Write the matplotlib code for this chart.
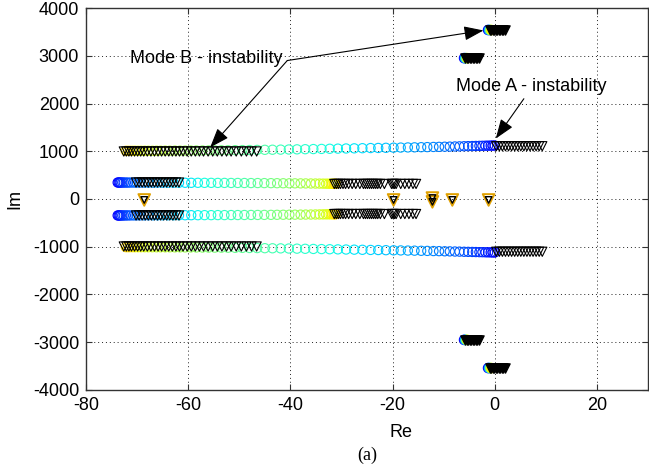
import numpy as np
import matplotlib.pyplot as plt

plt.rcParams['font.family'] = ['Liberation Sans', 'DejaVu Sans']
plt.rcParams['axes.unicode_minus'] = False

# ---- circle sweep, upper branch (Im ~ +1000), first point at Re=0 ----
brA_re = [0, -0.4, -0.8, -1.3, -1.8, -2.4, -3.0, -3.7, -4.4, -5.2, -6.0, -6.9,
          -7.8, -8.8, -9.8, -10.9, -12.0, -13.2, -14.4, -15.7, -17.0, -18.4,
          -19.8, -21.3, -22.8, -24.3, -25.9, -27.5, -29.1, -30.7, -32.3, -33.9,
          -35.5, -37.1, -38.7, -40.3, -41.9, -43.5, -45.0, -46.5, -48.0, -49.4,
          -50.8, -52.2, -53.5, -54.8, -56.0, -57.2, -58.4, -59.5, -60.6, -61.6,
          -62.6, -63.6, -64.5, -65.4, -66.2, -67.0, -67.8, -68.5, -69.2, -69.8,
          -70.4, -70.9, -71.4, -71.8, -72.2]
brA_im = [1120, 1119, 1118, 1117, 1116, 1114, 1113, 1111, 1109, 1107, 1105, 1102,
          1100, 1097, 1095, 1092, 1090, 1087, 1085, 1082, 1080, 1077,
          1075, 1072, 1069, 1067, 1064, 1061, 1058, 1055, 1052, 1049,
          1046, 1043, 1040, 1037, 1034, 1032, 1030, 1028, 1026, 1024,
          1023, 1021, 1020, 1019, 1018, 1017, 1016, 1015, 1014, 1013,
          1013, 1012, 1012, 1011, 1011, 1010, 1010, 1010, 1009, 1009,
          1009, 1008, 1008, 1008, 1008]

# ---- circle sweep, inner branch (Im ~ +340), first point at Re=-73.8 ----
brB_re = [-73.8, -73.6, -73.4, -73.2, -72.9, -72.6, -72.2, -71.8, -71.3, -70.7,
          -70.1, -69.4, -68.6, -67.8, -66.9, -66.0, -65.0, -64.0, -62.9, -61.8,
          -60.6, -59.4, -58.1, -56.8, -55.5, -54.2, -52.9, -51.6, -50.3, -49.0,
          -47.7, -46.4, -45.1, -43.8, -42.6, -41.4, -40.2, -39.1, -38.0, -37.0,
          -36.0, -35.1, -34.3, -33.6, -33.0, -32.5, -32.1, -31.8, -31.5, -31.3,
          -31.1]
brB_im = [345, 345, 345, 345, 345, 345, 344, 344, 344, 344,
          343, 343, 343, 342, 342, 342, 341, 341, 341, 340,
          340, 339, 339, 338, 338, 337, 337, 336, 336, 335,
          334, 334, 333, 332, 331, 330, 329, 328, 327, 326,
          325, 324, 323, 322, 321, 320, 320, 319, 319, 318,
          318]

# ---- triangle sweep ----
triA1_re = [-72.6, -72.1, -71.6, -71.1, -70.5, -69.9, -69.3, -68.7, -68.0, -67.3,
            -66.6, -65.9, -65.2, -64.5, -63.8, -63.1, -62.4, -61.7, -61.0, -60.2,
            -59.4, -58.6, -57.8, -57.0, -56.1, -55.2, -54.3, -53.4, -52.5, -51.6,
            -50.6, -49.6, -48.6, -47.6, -46.6]
triA1_im = 995
triA2_re = [0.3, 0.9, 1.5, 2.1, 2.7, 3.3, 3.9, 4.5, 5.1, 5.7, 6.3, 6.9, 7.5, 8.1,
            8.7, 9.3]
triA2_im = 1105
triB1_re = [-70.2, -69.6, -69.0, -68.4, -67.8, -67.2, -66.6, -66.0, -65.4, -64.8,
            -64.2, -63.6, -63.0, -62.4, -61.8]
triB1_im = 345
triB2_re = [-31.4, -31.0, -30.6, -30.2, -29.7, -29.2, -28.6, -27.9, -27.2, -26.4,
            -25.7, -25.3, -24.9, -24.5, -24.1, -23.7, -23.3, -22.9, -22.4, -21.6,
            -20.2, -19.9, -19.6, -19.3, -18.4, -17.6, -16.8, -16.0, -15.4]
triB2_im = 315

# near the real axis
real_re = [-68.6, -19.8, -12.2, -12.2, -8.3, -1.2]
real_im = [-20, -20, 20, -60, -20, -20]

# high-frequency clusters (upper half, mirrored below)
clu_re = [[-1.0, -0.7, -0.4, -0.1, 0.2, 0.5, 0.8, 1.1, 1.4, 1.7, 2.0],
          [-5.8, -5.5, -5.2, -4.9, -4.6, -4.3, -4.0, -3.7, -3.4, -3.1]]
clu_im = [3540, 2950]
clu_col_re = [[-1.3, -1.1, -0.9, -0.7], [-6.0, -5.8, -5.6, -5.4]]

fig = plt.figure(figsize=(6.49, 4.71), dpi=100)
ax = fig.add_axes([0.1325, 0.172, 0.866, 0.811])

cmap = plt.get_cmap('jet')
ms = 44
lw = 0.8

for sgn in (1, -1):
    ax.scatter(brA_re, sgn * np.array(brA_im), s=ms, facecolors='none',
               edgecolors=cmap(np.linspace(0.12, 0.68, len(brA_re))), linewidths=lw, zorder=3)
    ax.scatter(brB_re, sgn * np.array(brB_im), s=ms, facecolors='none',
               edgecolors=cmap(np.linspace(0.12, 0.68, len(brB_re))), linewidths=lw, zorder=3)
    for tre, tim in [(triA1_re, triA1_im), (triA2_re, triA2_im),
                     (triB1_re, triB1_im), (triB2_re, triB2_im)]:
        ax.scatter(tre, [sgn * tim] * len(tre), s=ms, marker='v', facecolors='none',
                   edgecolors='k', linewidths=lw, zorder=4)
    for cre, cim, ccol in zip(clu_re, clu_im, clu_col_re):
        ax.scatter(ccol, [sgn * cim] * len(ccol), s=ms, c=cmap(np.linspace(0.12, 0.65, len(ccol))),
                   zorder=3)
        ax.scatter(cre, [sgn * cim] * len(cre), s=ms, marker='v', c='k', zorder=4)

ax.scatter(real_re, real_im, s=70, marker='v', facecolors='none', edgecolors='#e0a000',
           linewidths=1.4, zorder=4)
ax.scatter(real_re, real_im, s=22, marker='v', facecolors='none', edgecolors='k',
           linewidths=1.0, zorder=5)

ax.set_xlim(-80, 30)
ax.set_ylim(-4000, 4000)
ax.set_xticks([-80, -60, -40, -20, 0, 20])
ax.set_yticks(range(-4000, 4001, 1000))
ax.grid(True, color='#222222', linestyle=(0, (1, 3)), linewidth=0.7)
ax.tick_params(direction='in', top=True, right=True, length=4, labelsize=13, pad=5,
               colors='#333333', labelcolor='k')
for sp in ax.spines.values():
    sp.set_color('#333333')
    sp.set_linewidth(1.0)

ax.set_xlabel('Re', fontsize=13)
ax.xaxis.set_label_coords(0.56, -0.09)
ax.set_ylabel('Im', fontsize=13)
ax.yaxis.set_label_coords(-0.112, 0.5)

arrow = dict(arrowstyle='-|>,head_length=0.6,head_width=0.22', color='k', lw=0.8,
             mutation_scale=20, shrinkA=0, shrinkB=0)
ax.text(-71.4, 2940, 'Mode B - instability', fontsize=13, va='center', ha='left')
ax.annotate('', xy=(-55.7, 1080), xytext=(-40.6, 2900), arrowprops=arrow)
ax.annotate('', xy=(-2.2, 3530), xytext=(-40.6, 2900), arrowprops=arrow)
ax.text(-7.6, 2360, 'Mode A - instability', fontsize=13, va='center', ha='left')
ax.annotate('', xy=(0.2, 1265), xytext=(5.7, 2100), arrowprops=arrow)

fig.text(367 / 649, 1 - 455 / 471, '(a)', family='Liberation Serif', fontsize=13,
         ha='center', va='center')

fig.savefig('out.png', dpi=100)
